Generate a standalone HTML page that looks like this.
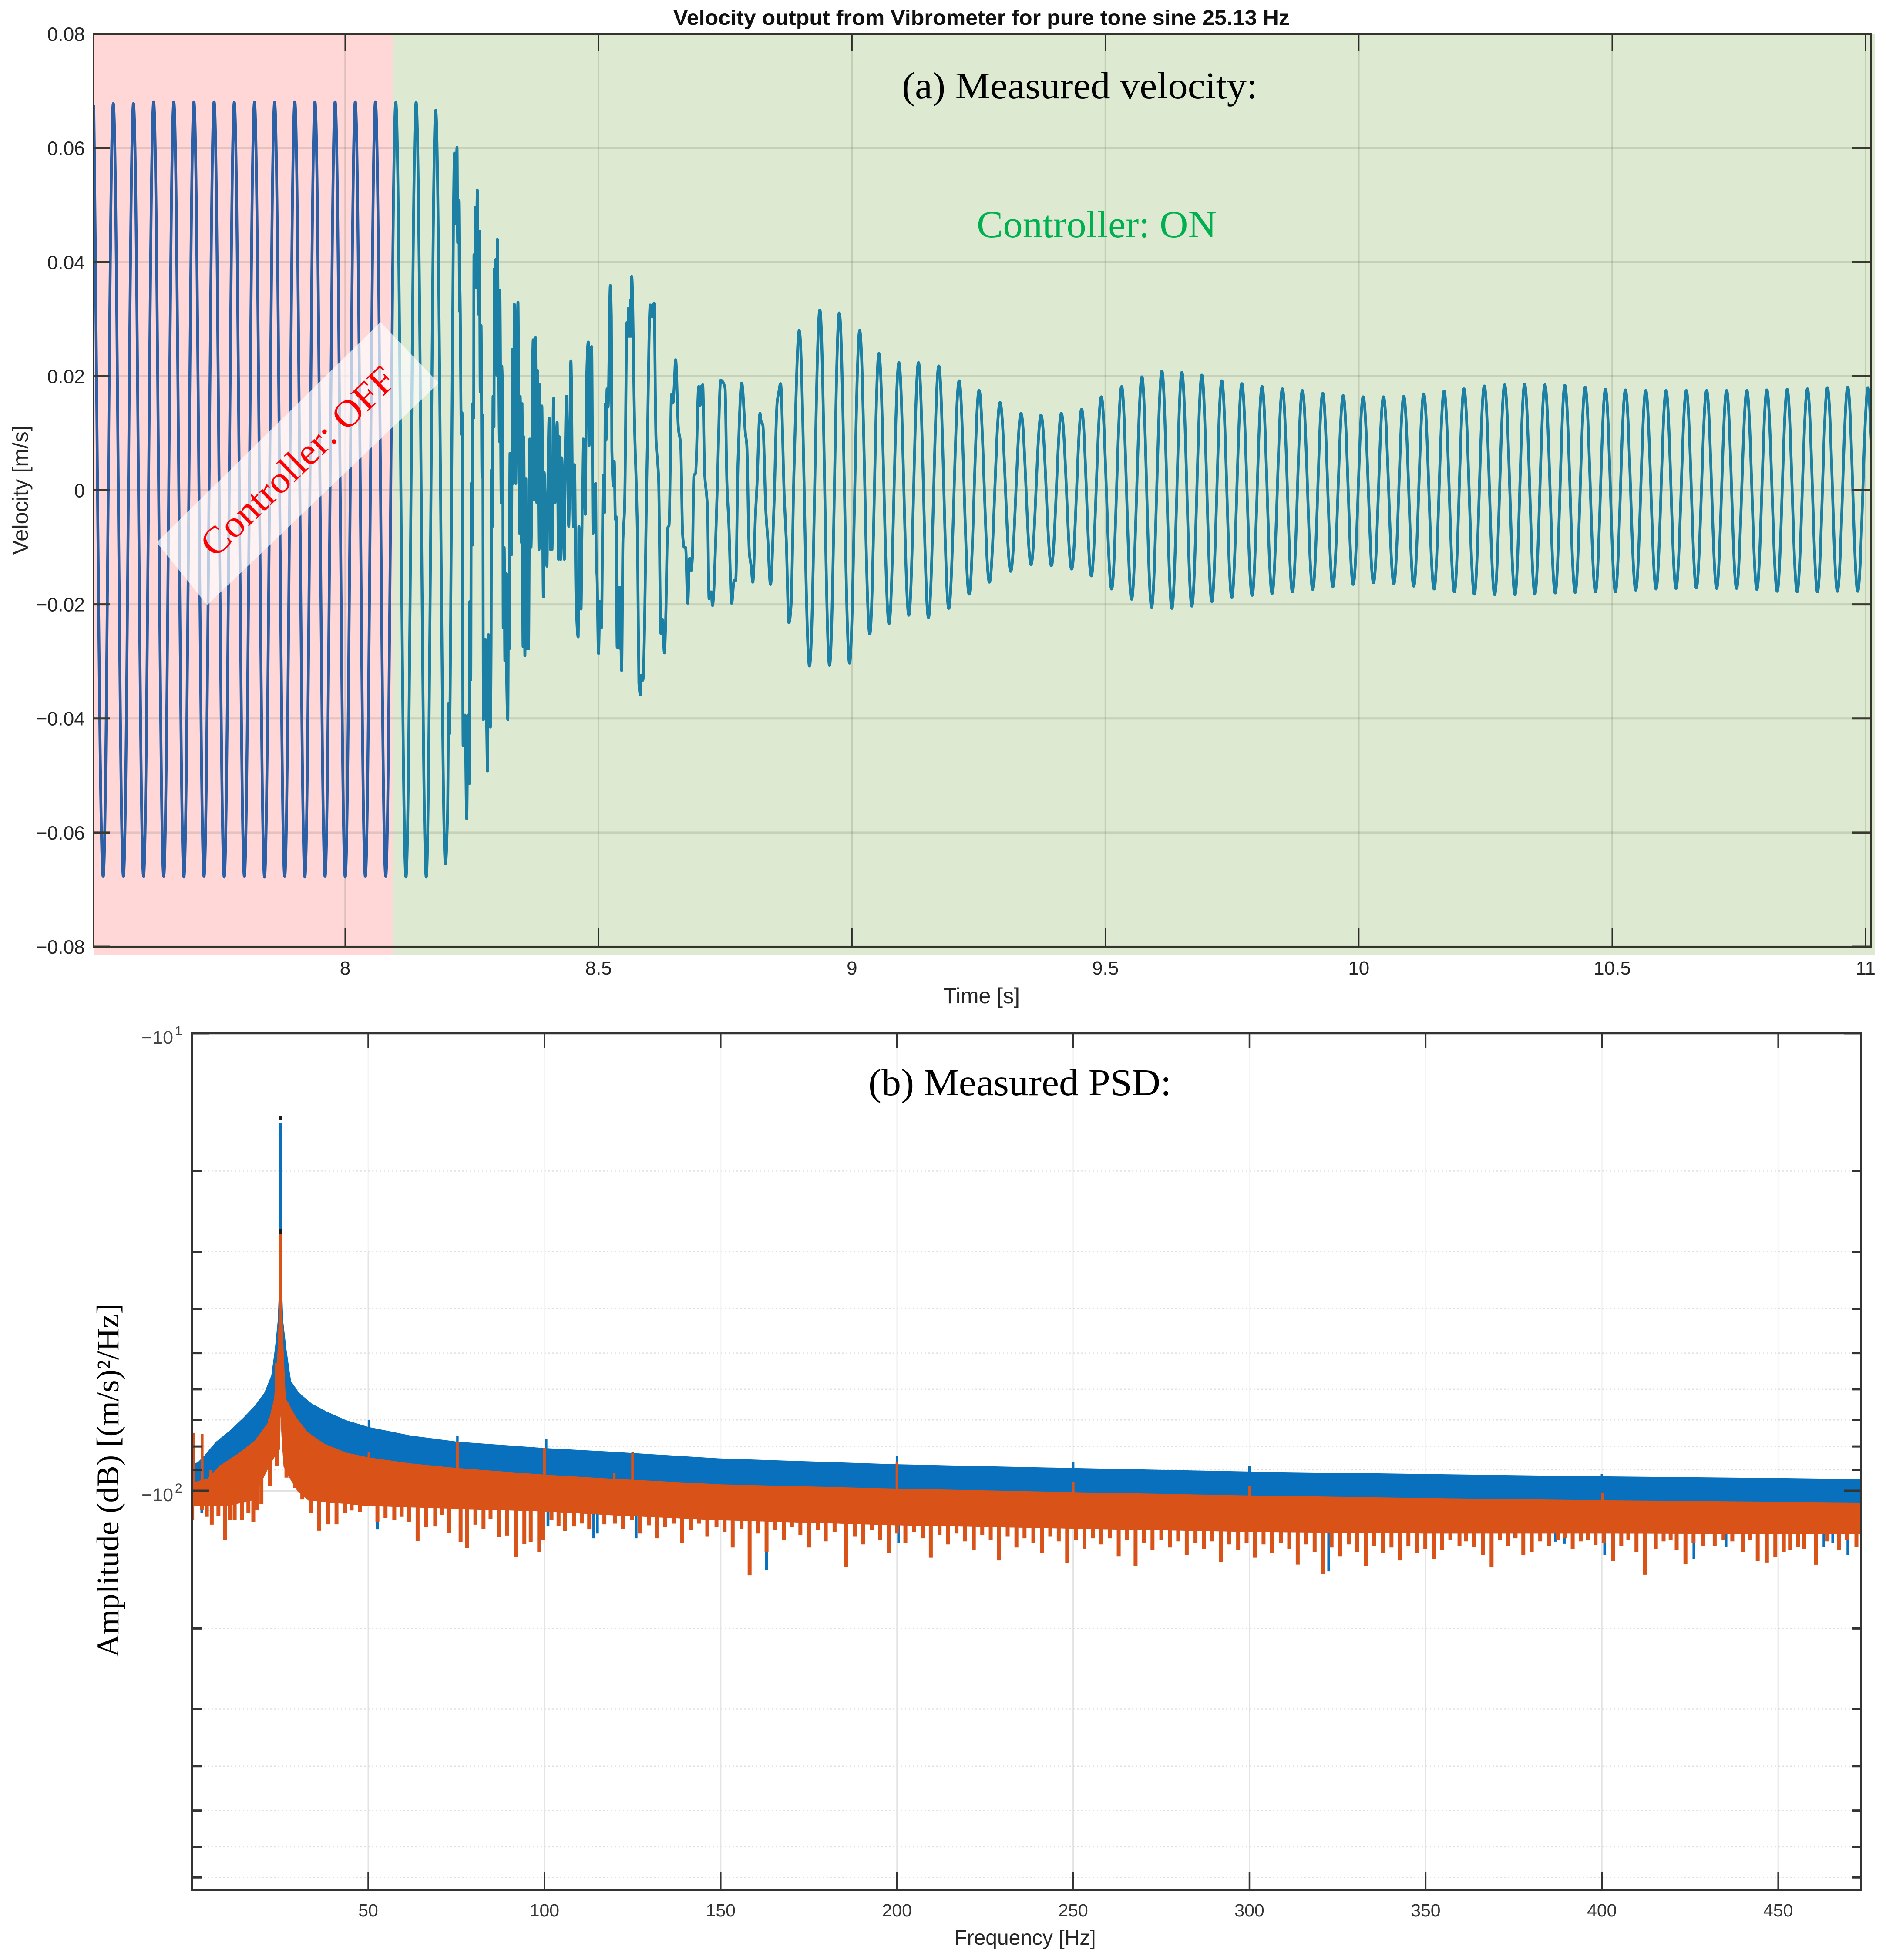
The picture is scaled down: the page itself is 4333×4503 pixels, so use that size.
<!DOCTYPE html>
<html lang="en">
<head>
<meta charset="utf-8">
<title>Velocity output from Vibrometer and measured PSD</title>
<style>
html,body{margin:0;padding:0;background:#fff;}
svg{display:block;}
text{font-family:"Liberation Sans",sans-serif;}
.serif{font-family:"Liberation Serif",serif;}
</style>
</head>
<body>
<svg id="chart" xmlns="http://www.w3.org/2000/svg" width="4333" height="4503" viewBox="0 0 4333 4503">
  <defs>
    <clipPath id="clip-off"><rect id="clip-off-rect" x="215" y="78" width="688" height="2097"/></clipPath>
    <clipPath id="clip-on"><rect id="clip-on-rect" x="903" y="78" width="3396" height="2097"/></clipPath>
    <clipPath id="clip-psd"><rect x="441" y="2374" width="3835" height="1968"/></clipPath>
  </defs>
  <rect x="0" y="0" width="4333" height="4503" fill="#ffffff"/>
  <g id="top-back"></g>
  <g id="top-marks"></g>
  <polygon points="360,1246 874,740 1008,880 476,1390" fill="#ffffff" fill-opacity="0.68"/>
  <g id="psd-back"></g>
  <g id="psd-marks" clip-path="url(#clip-psd)"></g>
  <g id="axes"></g>

  <text x="2255" y="57" text-anchor="middle" font-size="48" font-weight="bold" fill="#111" textLength="1416" lengthAdjust="spacingAndGlyphs">Velocity output from Vibrometer for pure tone sine 25.13 Hz</text>
  <text class="serif" x="2072" y="226" font-size="87" fill="#000" textLength="817" lengthAdjust="spacingAndGlyphs">(a) Measured velocity:</text>
  <text class="serif" x="2244" y="545" font-size="88" fill="#00b050" textLength="551" lengthAdjust="spacingAndGlyphs">Controller: ON</text>
  <text class="serif" transform="translate(494,1284) rotate(-44)" font-size="87" fill="#ff0000" textLength="585" lengthAdjust="spacingAndGlyphs">Controller: OFF</text>
  <text x="2255" y="2305" text-anchor="middle" font-size="50" fill="#262626">Time [s]</text>
  <text transform="translate(64,1126) rotate(-90)" text-anchor="middle" font-size="50.5" fill="#262626">Velocity [m/s]</text>
  <text class="serif" x="1995" y="2516" font-size="87" fill="#000" textLength="696" lengthAdjust="spacingAndGlyphs">(b) Measured PSD:</text>
  <text x="2355" y="4468" text-anchor="middle" font-size="48" fill="#262626">Frequency [Hz]</text>
  <text class="serif" transform="translate(272,3401) rotate(-90)" text-anchor="middle" font-size="72" fill="#000" textLength="813" lengthAdjust="spacingAndGlyphs">Amplitude (dB) [(m/s)²/Hz]</text>
</svg>
<script>
/* ---------- velocity chart data ---------- */
const timeTicks = [8, 8.5, 9, 9.5, 10, 10.5, 11];
const timeTickLabels = ['8', '8.5', '9', '9.5', '10', '10.5', '11'];
const velocityTicks = [0.08, 0.06, 0.04, 0.02, 0, -0.02, -0.04, -0.06, -0.08];
const velocityTickLabels = ['0.08', '0.06', '0.04', '0.02', '0', '\u22120.02', '\u22120.04', '\u22120.06', '\u22120.08'];
const controllerSwitchTime = [8.0947];
const velocityTimes = [
7.5040,7.5226,7.5425,7.5624,7.5823,7.6022,7.6221,7.6420,7.6619,7.6818,7.7016,7.7215,7.7414,7.7613,7.7812,7.8011,7.8210,7.8409,7.8608,7.8807,7.9006,7.9205,7.9404,7.9603,7.9802,8.0001,8.0199,8.0398,8.0597,8.0800,
8.0999,8.1200,8.1400,8.1600,8.1786,8.1978,8.2021,8.2044,8.2058,8.2093,8.2136,8.2158,8.2179,8.2207,8.2221,8.2241,8.2259,8.2264,8.2293,8.2307,8.2327,8.2365,8.2399,8.2422,8.2451,8.2459,8.2479,8.2488,8.2508,8.2516,8.2536,8.2542,8.2565,8.2571,8.2585,8.2608,8.2625,8.2651,8.2665,8.2682,8.2700,8.2714,8.2728,8.2765,8.2794,8.2808,8.2828,8.2866,8.2880,8.2889,8.2909,8.2917,8.2937,8.2943,8.2966,8.2974,8.2989,8.3003,8.3037,8.3052,8.3080,8.3089,8.3109,8.3118,8.3138,8.3152,8.3175,8.3186,8.3209,8.3224,8.3238,8.3252,8.3281,8.3301,8.3324,8.3338,8.3367,8.3375,8.3410,8.3438,8.3453,8.3481,8.3490,8.3510,8.3524,8.3547,8.3567,8.3581,8.3619,8.3644,8.3667,8.3710,8.3725,8.3753,8.3782,8.3796,8.3825,8.3839,8.3853,8.3882,8.3911,8.3925,8.3982,8.3997,8.4025,8.4054,8.4082,8.4111,8.4140,8.4183,8.4211,8.4226,8.4254,8.4274,8.4326,8.4340,8.4369,8.4412,8.4455,8.4498,8.4526,8.4555,8.4598,8.4612,8.4655,8.4669,8.4698,8.4741,8.4755,8.4798,8.4812,8.4864,8.4892,8.4941,8.4956,8.4970,8.4999,8.5027,8.5056,
8.5095,8.5118,8.5133,8.5148,8.5168,8.5187,8.5233,8.5252,8.5263,8.5294,8.5309,8.5332,8.5348,8.5367,8.5394,8.5409,8.5424,8.5455,8.5482,8.5509,8.5520,8.5559,8.5578,8.5589,8.5616,8.5624,8.5639,8.5654,8.5712,8.5769,8.5796,8.5827,8.5846,8.5873,8.5961,8.6019,8.6057,8.6095,8.6134,8.6184,8.6230,8.6260,8.6276,8.6299,8.6325,8.6364,8.6391,8.6441,8.6467,8.6490,8.6521,8.6575,8.6621,8.6659,8.6690,8.6717,8.6759,8.6797,8.6824,8.6851,8.6881,8.6912,8.6977,8.6996,8.7015,8.7035,8.7054,8.7092,8.7150,8.7180,8.7219,8.7249,8.7272,8.7341,8.7410,8.7495,8.7533,8.7571,8.7625,8.7675,8.7705,8.7752,8.7824,8.7897,8.7924,8.7974,8.8012,8.8043,8.8097,8.8127,8.8185,8.8204,8.8242,8.8300,8.8338,8.8392,8.8461,8.8522,8.8557,8.8591,8.8664,8.8702,8.8756,8.8798,8.8856,8.8959,8.9162,8.9366,8.9557,8.9749,8.9952,9.0152,9.0351,9.0531,9.0731,
9.0926,9.1122,9.1312,9.1509,9.1713,9.1910,9.2114,9.2311,9.2508,9.2711,9.2922,9.3132,9.3336,9.3533,9.3730,9.3934,9.4131,9.4334,9.4531,9.4722,9.4919,9.5123,9.5320,9.5517,9.5721,9.5911,9.6115,9.6312,9.6509,9.6706,9.6903,9.7100,9.7297,9.7494,9.7692,9.7895,9.8092,9.8289,9.8493,9.8690,9.8887,9.9091,9.9288,9.9488,9.9692,9.9889,
10.0086,10.0290,10.0487,10.0691,10.0887,10.1084,10.1281,10.1485,10.1682,10.1886,10.2075,10.2279,10.2476,10.2680,10.2877,10.3081,10.3271,10.3474,10.3671,10.3875,10.4065,10.4269,10.4466,10.4670,10.4866,10.5063,10.5260,10.5464,10.5661,10.5865,10.6062,10.6258,10.6462,10.6659,10.6863,10.7060,10.7257,10.7453,10.7657,10.7854,10.8051,10.8255,10.8452,10.8648,10.8852,10.9049,10.9246,10.9443,10.9647,10.9844,11.0047,11.0118
];
const velocityValues = [
.0675,-.0677,.0678,-.0677,.0678,-.0677,.0681,-.0677,.0681,-.0678,.0681,-.0677,.0681,-.0678,.0680,-.0677,.0680,-.0678,.0680,-.0677,.0681,-.0678,.0681,-.0677,.0681,-.0678,.0681,-.0677,.0681,-.0677,
.0680,-.0678,.0680,-.0678,.0666,-.0655,-.0568,-.0373,-.0427,-.0088,.0471,.0591,.0467,.0601,.0434,.0508,.0314,.0351,.0098,.0136,-.0448,-.0394,-.0576,-.0394,-.0514,-.0195,-.0332,.0012,-.0096,.0152,.0127,.0413,.0355,.0496,.0355,.0526,.0309,.0454,.0173,.0289,.0024,.0132,-.0402,-.0261,-.0419,-.0492,-.0253,-.0415,-.0278,.0036,-.0063,.0165,.0111,.0388,.0227,.0405,.0202,.0440,.0086,.0351,-.0022,.0218,.0140,-.0241,-.0100,-.0299,-.0146,-.0324,-.0402,-.0187,-.0278,.0065,-.0113,.0247,.0012,.0326,.0012,.0082,.0330,-.0075,.0165,-.0092,.0152,-.0274,.0094,-.0290,.0020,-.0278,-.0278,.0090,-.0100,.0264,-.0017,.0268,-.0022,.0210,-.0104,.0185,-.0100,.0148,-.0187,.0032,-.0133,-.0013,.0127,-.0104,-.0104,.0161,-.0022,.0119,-.0121,.0094,-.0121,.0057,-.0121,.0036,.0165,-.0063,.0227,-.0063,.0045,-.0187,-.0257,-.0063,-.0208,-.0092,.0090,-.0042,.0156,.0260,.0078,.0252,-.0075,.0012,-.0133,-.0150,-.0286,-.0195,-.0241,
.0027,-.0039,.0151,.0088,.0178,.0146,.0359,.0304,.0071,.0007,.0051,-.0051,-.0046,-.0275,-.0170,-.0277,-.0170,-.0316,-.0085,-.0041,-.0002,.0294,.0270,.0319,.0270,.0333,.0270,.0375,.0109,-.0085,-.0338,-.0358,-.0324,-.0333,.0071,.0325,.0304,.0328,.0090,.0022,-.0251,-.0226,-.0251,-.0285,-.0226,-.0066,-.0061,.0168,.0153,.0178,.0229,.0109,.0080,-.0078,-.0100,-.0100,-.0198,-.0119,-.0141,-.0119,.0027,.0029,.0182,.0148,.0182,.0151,.0185,.0032,-.0032,-.0190,-.0178,-.0202,-.0178,.0002,.0193,.0180,.0012,-.0061,-.0198,-.0158,-.0158,.0051,.0188,.0100,.0080,-.0109,-.0134,-.0161,-.0041,.0012,.0135,.0122,.0114,-.0036,-.0085,-.0165,-.0027,.0153,.0173,.0187,-.0012,-.0085,-.0232,-.0202,.0036,.0280,-.0308,.0316,-.0307,.0311,-.0303,.0280,-.0252,.0240,-.0234,
.0224,-.0219,.0224,-.0223,.0218,-.0207,.0192,-.0182,.0175,-.0161,.0154,-.0142,.0135,-.0130,.0132,-.0132,.0135,-.0138,.0142,-.0150,.0164,-.0173,.0182,-.0191,.0199,-.0205,.0209,-.0207,.0207,-.0203,.0202,-.0195,.0192,-.0188,.0187,-.0184,.0182,-.0181,.0178,-.0178,.0175,-.0174,.0170,-.0169,.0166,-.0165,
.0164,-.0162,.0164,-.0164,.0165,-.0168,.0169,-.0173,.0174,-.0178,.0178,-.0182,.0183,-.0183,.0185,-.0183,.0186,-.0182,.0185,-.0180,.0184,-.0179,.0181,-.0178,.0177,-.0178,.0176,-.0175,.0175,-.0173,.0175,-.0172,.0175,-.0171,.0175,-.0172,.0175,-.0172,.0175,-.0174,.0176,-.0177,.0177,-.0178,.0178,-.0178,.0180,-.0177,.0181,-.0177,.0180,.0078
];

/* ---------- PSD chart data (magnitudes of negative amplitudes on a log axis) ---------- */
const freqTicks = [50,100,150,200,250,300,350,400,450];
const freqTickLabels = ['50','100','150','200','250','300','350','400','450'];
const psdMinorTicks = [20,30,40,50,60,70,80,90,200,300,400,500,600,700];
const psdMajorTicks = [10,100];
const psdMajorExponents = ['1','2'];
const blueTopFreq = [0,1.6,3.6,6.75,10.7,14.6,17.8,20.5,22.5,23.5,24.3,24.75,24.76,25.5,25.51,25.9,26.8,28.1,30.4,34,38.2,43.7,50,61.9,75.3,100.5,118.4,150,200,250,300,353,400,450,473.6];
const blueTopMag = [87.3,86.7,83.6,78.2,73.9,69.2,65.2,61.1,56,49.1,42.7,35.3,15.7,15.7,35.3,42.7,49.1,57.6,61.1,64.5,67.1,70.1,72.5,75.7,78.1,80.7,82.1,85,87.5,89.2,90.8,92,93,93.8,94.3];
const orangeTopFreq = [0,4.4,7.9,13,17.8,21.7,23.3,24.3,24.7,24.76,25.5,25.56,26,26.6,29.6,32.8,37.5,43.7,50,61.9,75.3,100,118,150,200,250,300,353,400,473.6];
const orangeTopMag = [96.1,94,88.1,83,77.7,70.7,62.8,49.1,39.4,27.5,27.5,39.4,49.1,62.8,69.2,74.4,78.9,82.5,84.5,87.1,89.2,92.2,94,96.8,98.9,100.7,102.4,103.8,104.9,106.1];
const orangeLowFreq = [0,10,17,20,22,24.5,25,25.13,25.4,26,28,30,33,50,100,118,150,200,250,300,350,400,473.6];
const orangeLowMag = [108,108,105,94.7,88.1,81.7,81.2,68.2,76,88.6,94.7,100.4,105,108,111,113,116,119,121,123,124,124,124.5];
const blueUpFreq = [50.2,75.3,100.5,125,200,250,300,400];
const blueUpMag = [70.1,75.9,77.2,82.1,84,86.7,88.2,92];
const orangeUpFreq = [0.6,2.9,5.2,8.2,50.2,75.3,100,119.8,125,200,250,300,400.2];
const orangeUpMag = [74.7,75.2,90,87.7,82.4,78.2,80.7,91.6,82.6,86.7,95.7,97.8,101.1];
const blueDownFreq = [2.8,4.8,52.6,101,114,115,126,163,200.5,322.5,375.2,386.8,389.3,400.8,426.1,435.2,463,465.5,469.8];
const blueDownMag = [111.6,110.4,121.3,119.7,127,124,127,149,130,150,126.7,129.2,130.6,138.3,141,132.9,132.9,130,138.3];
const orangeDownFreq = [0.06,4.2,5.6,7.5,9.35,12.1,14.2,17.4,19.7,22.1,24.1,26.8,29.2,31.3,33.7,36.1,38.6,41,43.4,45.3,47.7,50.5,52.6,54.9,57.4,59.5,61.6,64,66.4,69,70.9,73,76.2,78,80.4,82.7,84.7,87.1,89.4,92,94.3,96.1,98.5,99.7,104,105.8,108.4,110.7,112.7,117,
120,122.3,124.8,127.1,129.6,131.9,134.2,136.8,139.1,141.5,143.9,146.2,148.8,151.1,153.4,155.9,158.2,160.7,163,165.4,167.9,170.2,172.6,175.1,177.5,179.8,182.3,185.6,188,190.4,192.9,195.2,197.7,200.1,202.4,204.9,207.3,209.6,212.1,214.5,216.9,219.3,221.8,224.2,226.6,229,231.4,233.9,236.2,238.7,241.1,243.5,245.9,248.3,250.8,253.2,255.6,258,260.4,262.9,265.3,267.7,270.1,272.5,275,277.4,279.8,282.2,284.7,287.1,289.5,291.9,294.3,296.8,299.2,301.6,304,306.4,308.9,311.3,313.7,316.1,318.5,320.9,323.3,325.8,328.2,330.6,333,335.4,337.8,340.3,342.7,345.1,347.5,349.9,352.3,
354.7,359.6,363.8,366.2,368.7,373.4,377.7,380.1,385,391.7,398.2,403.2,405.5,409.8,412.2,415.3,421.2,423.7,428.7,432,440.1,444.2,446.8,449.2,451.6,453.4,455.7,457.4,460.7,467.2,472.2];
const orangeDownMag = [116,114,118.6,113.6,127.8,116,116,117,106.8,97.8,88.3,93.6,98.5,104.5,111.6,122.3,118.4,118.4,112,110.4,111.1,107.5,117,114.6,115.8,114,117,128.7,120,119.7,112.8,123.7,129.5,133.5,118.6,121,115.3,126.4,125.3,139.6,130.9,129.5,136,128,119.2,122.6,119.7,117.9,121.3,118.4,
118,121,116,124,119,127,120,118,130,122,118,126,120,123,133,121,153,124,136,122,128,120,125,133,122,129,123,147,126,131,122,128,137,124,130,123,127,140,125,131,124,129,135,125,128,142,126,133,127,130,137,126,129,144,128,134,127,131,127,139,128,146,130,135,128,133,129,138,130,134,129,143,131,135,130,140,131,137,130,134,145,131,136,152,133,139,131,136,146,132,137,133,142,132,137,134,141,
135,132.1,132.9,138.3,146.8,132.1,138.3,136,132.3,133.9,131.5,142.6,132.3,136,152.6,133.9,135,144.5,132.1,132.3,136,142.6,143.5,139.6,136,135,132.9,133.9,145.1,134.5,132.9];
const orangeShallowFreq = [2.8,10.7,16,18.5,102,357,361.5,371,375.5,382.5,387.5,389.5,394,396,400.5,407.5,417.5,419.5,426,434.5,437,442,464,469.5];
const orangeShallowMag = [110,116,112,110,116,128,129,128,127,129,128,127,129,128,130,128,129,128,130,128,129,128,129,128];
const peakFreq = [25.13];
const peakMags = [15.3, 27.1];

/* ---------- axis functions ---------- */
const xTime = t => 793 + (t - 8) * 1164.4;
const yVel = v => 1126.5 - v * 13106;
const xFreq = f => 846 + (f - 50) * 8.098;
const yMag = m => 2374 + 1051 * (Math.log10(m) - 1);

const NS = 'http://www.w3.org/2000/svg';
function mk(tag, attrs, parent, txt) {
  const el = document.createElementNS(NS, tag);
  for (const k in attrs) el.setAttribute(k, attrs[k]);
  if (txt !== undefined) el.textContent = txt;
  parent.appendChild(el);
  return el;
}
function smoothPath(xs, ys) {
  const n = xs.length, s = [], m = [];
  for (let i = 0; i < n - 1; i++) s.push((ys[i + 1] - ys[i]) / (xs[i + 1] - xs[i]));
  m[0] = s[0]; m[n - 1] = s[n - 2];
  for (let i = 1; i < n - 1; i++) m[i] = s[i - 1] * s[i] <= 0 ? 0 : 2 * s[i - 1] * s[i] / (s[i - 1] + s[i]);
  let d = 'M' + xs[0].toFixed(1) + ' ' + ys[0].toFixed(1);
  for (let i = 0; i < n - 1; i++) {
    const h = (xs[i + 1] - xs[i]) * 0.36;
    d += 'C' + (xs[i] + h).toFixed(1) + ' ' + (ys[i] + m[i] * h).toFixed(1) + ' ' + (xs[i + 1] - h).toFixed(1) + ' ' + (ys[i + 1] - m[i + 1] * h).toFixed(1) + ' ' + xs[i + 1].toFixed(1) + ' ' + ys[i + 1].toFixed(1);
  }
  return d;
}
function bandPath(tf, tm, lf, lm) {
  let d = '';
  tf.forEach((f, i) => { d += (i ? 'L' : 'M') + xFreq(f).toFixed(1) + ' ' + yMag(tm[i]).toFixed(1); });
  for (let i = lf.length - 1; i >= 0; i--) d += 'L' + xFreq(lf[i]).toFixed(1) + ' ' + yMag(lm[i]).toFixed(1);
  return d + 'Z';
}
function spikePath(fs, ms, baseMag) {
  let d = '';
  fs.forEach((f, i) => { d += 'M' + xFreq(f).toFixed(1) + ' ' + yMag(baseMag).toFixed(1) + 'V' + yMag(ms[i]).toFixed(1); });
  return d;
}
/* spikes hanging from the orange band: each starts just inside the band's upper edge */
function topEdge(f) {
  for (let i = 0; i < orangeTopFreq.length - 1; i++) {
    if (f <= orangeTopFreq[i + 1]) {
      const r = (f - orangeTopFreq[i]) / (orangeTopFreq[i + 1] - orangeTopFreq[i]);
      return orangeTopMag[i] + r * (orangeTopMag[i + 1] - orangeTopMag[i]);
    }
  }
  return orangeTopMag[orangeTopMag.length - 1];
}
function hangingSpikes(fs, ms) {
  let d = '';
  fs.forEach((f, i) => { d += 'M' + xFreq(f).toFixed(1) + ' ' + (yMag(topEdge(f)) + 6).toFixed(1) + 'V' + yMag(ms[i]).toFixed(1); });
  return d;
}

/* ---------- velocity plot ---------- */
const topBack = document.getElementById('top-back');
const topMarks = document.getElementById('top-marks');
const axes = document.getElementById('axes');
const xSwitch = xTime(controllerSwitchTime[0]);

const offRegion = mk('rect', {x: 215, y: 78, width: xSwitch - 215, height: 2115, fill: '#ffd7d7'}, topBack);


const onRegion = mk('rect', {x: xSwitch, y: 78, width: 4308 - xSwitch, height: 2115, fill: '#dde9d1'}, topBack);


document.getElementById('clip-off-rect').setAttribute('width', xSwitch - 215);
document.getElementById('clip-on-rect').setAttribute('x', xSwitch);
document.getElementById('clip-on-rect').setAttribute('width', 4299 - xSwitch);

timeTicks.forEach((t, i) => {
  const g = mk('line', {x1: xTime(t), x2: xTime(t), y1: 78, y2: 2175, stroke: 'rgba(50,55,30,0.15)', 'stroke-width': 3.5}, topBack);
  
  
  const t1 = mk('path', {d: 'M' + xTime(t) + ' 78v40M' + xTime(t) + ' 2175v-42', stroke: '#2c2c2c', 'stroke-width': 3, fill: 'none'}, axes);
  
  
  const lab = mk('text', {x: xTime(t), y: 2239, 'text-anchor': 'middle', 'font-size': 44, fill: '#262626'}, axes, timeTickLabels[i]);
  
  
});
velocityTicks.forEach((v, i) => {
  const g = mk('line', {x1: 215, x2: 4299, y1: yVel(v), y2: yVel(v), stroke: 'rgba(50,55,30,0.13)', 'stroke-width': 5}, topBack);
  
  
  const t1 = mk('path', {d: 'M215 ' + yVel(v) + 'h38M4299 ' + yVel(v) + 'h-45', stroke: '#3a3a30', 'stroke-width': 5, fill: 'none'}, axes);
  
  
  const lab = mk('text', {x: 195, y: yVel(v) + 16, 'text-anchor': 'end', 'font-size': 44.5, fill: '#262626'}, axes, velocityTickLabels[i]);
  
  
});

const velD = smoothPath(velocityTimes.map(xTime), velocityValues.map(yVel));
const lineOff = mk('path', {d: velD, fill: 'none', stroke: '#2b5fa6', 'stroke-width': 6.5, 'stroke-linejoin': 'round', 'clip-path': 'url(#clip-off)'}, topMarks);


const lineOn = mk('path', {d: velD, fill: 'none', stroke: '#1c80a4', 'stroke-width': 6.5, 'stroke-linejoin': 'round', 'clip-path': 'url(#clip-on)'}, topMarks);



const topBox = mk('rect', {x: 215, y: 78, width: 4084, height: 2097, fill: 'none', stroke: '#33352c', 'stroke-width': 4}, axes);



/* ---------- PSD plot ---------- */
const psdBack = document.getElementById('psd-back');
const psdMarks = document.getElementById('psd-marks');

freqTicks.forEach((f, i) => {
  const gUpper = mk('line', {x1: xFreq(f), x2: xFreq(f), y1: 2374, y2: yMag(100), stroke: '#f4f4f4', 'stroke-width': 3}, psdBack);
  
  
  const g = mk('line', {x1: xFreq(f), x2: xFreq(f), y1: i === 0 ? yMag(30) : yMag(100), y2: 4342, stroke: '#e4e4e4', 'stroke-width': 3}, psdBack);
  
  
  const t1 = mk('path', {d: 'M' + xFreq(f) + ' 2374v34M' + xFreq(f) + ' 4342v-42', stroke: '#333', 'stroke-width': 3.5, fill: 'none'}, axes);
  
  
  const lab = mk('text', {x: xFreq(f), y: 4403, 'text-anchor': 'middle', 'font-size': 41, fill: '#333'}, axes, freqTickLabels[i]);
  
  
});
psdMinorTicks.forEach(m => {
  const g = mk('line', {x1: 441, x2: 4276, y1: yMag(m), y2: yMag(m), stroke: '#e0e0e0', 'stroke-width': 2.5, 'stroke-dasharray': '3 6'}, psdBack);
  
  
  const t1 = mk('path', {d: 'M441 ' + yMag(m) + 'h22M4276 ' + yMag(m) + 'h-22', stroke: '#333', 'stroke-width': 5, fill: 'none'}, axes);
  
  
});
psdMajorTicks.forEach((m, i) => {
  const g = mk('line', {x1: 441, x2: 4276, y1: yMag(m), y2: yMag(m), stroke: '#e2e2e2', 'stroke-width': 4}, psdBack);
  
  
  const t1 = mk('path', {d: 'M441 ' + yMag(m) + 'h40M4276 ' + yMag(m) + 'h-40', stroke: '#333', 'stroke-width': 5, fill: 'none'}, axes);
  
  
  const lab = mk('text', {x: 398, y: yMag(m) + 24, 'text-anchor': 'end', 'font-size': 43, fill: '#444'}, axes, '\u221210');
  
  
  const sup = mk('text', {x: 402, y: yMag(m) + 4, 'font-size': 30, fill: '#444'}, axes, psdMajorExponents[i]);
  
  
});

const BLUE = '#0870bd', ORANGE = '#d95319';
const blueBand = mk('path', {d: bandPath(blueTopFreq, blueTopMag, orangeLowFreq, orangeLowMag), fill: BLUE}, psdMarks);


const blueUp = mk('path', {d: spikePath(blueUpFreq, blueUpMag, 105), stroke: BLUE, 'stroke-width': 5.5, fill: 'none'}, psdMarks);


const blueDown = mk('path', {d: spikePath(blueDownFreq, blueDownMag, 110), stroke: BLUE, 'stroke-width': 6.5, fill: 'none'}, psdMarks);


const orangeBand = mk('path', {d: bandPath(orangeTopFreq, orangeTopMag, orangeLowFreq, orangeLowMag), fill: ORANGE}, psdMarks);


const orangeUp = mk('path', {d: spikePath(orangeUpFreq, orangeUpMag, 108), stroke: ORANGE, 'stroke-width': 6, fill: 'none'}, psdMarks);


const orangeDown = mk('path', {d: hangingSpikes(orangeDownFreq, orangeDownMag), stroke: ORANGE, 'stroke-width': 9, fill: 'none'}, psdMarks);


const orangeShallow = mk('path', {d: hangingSpikes(orangeShallowFreq, orangeShallowMag), stroke: ORANGE, 'stroke-width': 9, fill: 'none'}, psdMarks);


peakMags.forEach(m => {
  const p = mk('rect', {x: xFreq(peakFreq[0]) - 3.5, y: yMag(m) - 5, width: 7, height: 10, fill: '#1a1a1a'}, psdMarks);
  
  
});

const psdBox = mk('rect', {x: 441, y: 2374, width: 3835, height: 1968, fill: 'none', stroke: '#333', 'stroke-width': 4.5}, axes);


</script>
</body>
</html>
